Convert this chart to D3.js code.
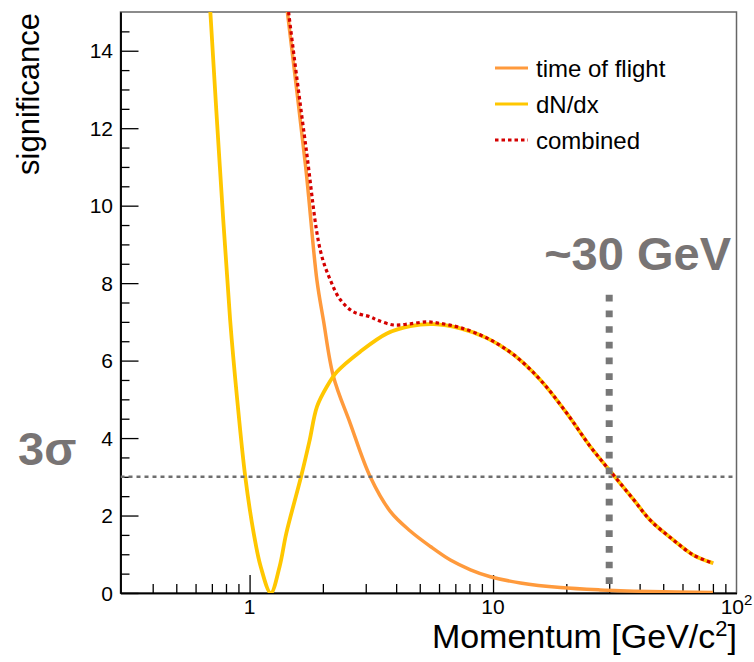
<!DOCTYPE html>
<html>
<head>
<meta charset="utf-8">
<script src="https://cdn.jsdelivr.net/npm/d3@7"></script>
<style>
  body { margin: 0; background: #fff; }
  text { font-family: "Liberation Sans", Arial, Helvetica, sans-serif; }
</style>
</head>
<body>
<svg id="chart" width="754" height="662"></svg>
<script>
// momentum (GeV/c) and significance, one pair of arrays per curve
var tofP = [1.32, 1.43, 1.70, 1.89, 2.01, 2.21, 2.59, 3.13, 3.79, 4.57, 5.53, 6.68, 8.08, 9.75, 12.96, 18.9, 27.5, 44.0, 80.0];
var tofV = [17, 15, 11, 8.08, 7.05, 5.59, 4.38, 3.0, 2.1, 1.6, 1.2, 0.85, 0.6, 0.42, 0.26, 0.14, 0.08, 0.04, 0.01];

var dedxP = [0.64, 0.69, 0.755, 0.832, 0.890, 0.960, 1.040, 1.112, 1.222, 1.328, 1.415, 1.627, 1.759, 1.892, 2.078, 2.285, 2.848, 3.665, 4.57, 5.70, 7.34, 9.45, 12.16, 15.65, 20.1, 25.1, 30.8, 37.9, 44.2, 55.0, 66.5, 80.2];
var dedxV = [18.5, 15, 11, 7.05, 4.98, 3.0, 1.54, 0.67, 0, 0.68, 1.54, 3.0, 3.9, 4.81, 5.33, 5.71, 6.23, 6.70, 6.89, 6.94, 6.83, 6.58, 6.15, 5.50, 4.64, 3.78, 3.09, 2.40, 1.88, 1.37, 0.98, 0.77];

var combP = [1.33, 1.446, 1.71, 1.95, 2.146, 2.36, 2.67, 3.13, 3.34, 3.90, 4.57, 5.35, 6.07, 7.34, 9.45, 12.16, 15.65, 20.1, 25.1, 30.8, 37.9, 44.2, 55.0, 66.5, 80.2];
var combV = [17, 15, 11.44, 8.86, 8.08, 7.57, 7.26, 7.13, 7.05, 6.92, 6.95, 7.0, 6.96, 6.85, 6.58, 6.15, 5.50, 4.64, 3.78, 3.09, 2.40, 1.88, 1.37, 0.98, 0.77];

var legendLabels = ["time of flight", "dN/dx", "combined"];
var xMajor = [1, 10, 100];
var xMinor = [0.4, 0.5, 0.6, 0.7, 0.8, 0.9, 2, 3, 4, 5, 6, 7, 8, 9, 20, 30, 40, 50, 60, 70, 80, 90];
var yMajor = [0, 2, 4, 6, 8, 10, 12, 14];
var yMinor = [0.5, 1, 1.5, 2.5, 3, 3.5, 4.5, 5, 5.5, 6.5, 7, 7.5, 8.5, 9, 9.5, 10.5, 11, 11.5, 12.5, 13, 13.5, 14.5];
var threshold = 3;      // 3 sigma line
var reachP = 30;        // ~30 GeV marker
var reachTop = 7.7;

var svg = d3.select("#chart");
var padL = 120.5, padR = 736.5, padT = 12, padB = 593;

var x = d3.scaleLog().domain([0.295, 100]).range([padL, padR]);
var y = d3.scaleLinear().domain([0, 15]).range([padB, padT]);

svg.append("clipPath").attr("id", "frame")
  .append("rect").attr("x", padL).attr("y", padT).attr("width", padR - padL).attr("height", padB - padT);

// frame
svg.append("rect")
  .attr("x", padL).attr("y", padT).attr("width", padR - padL).attr("height", padB - padT)
  .attr("fill", "none").attr("stroke", "#666").attr("stroke-width", 1.5);

// axes, ticks pointing into the plot like ROOT
function styleAxis(g) {
  g.select(".domain").attr("stroke", "#000").attr("stroke-width", 1.5);
  g.selectAll(".tick line").attr("stroke", "#000").attr("stroke-width", 1.3);
  g.selectAll(".tick text").remove();
}
svg.append("g").attr("transform", "translate(0," + padB + ")")
  .call(d3.axisBottom(x).tickValues(xMinor).tickSize(-9).tickSizeOuter(0)).call(styleAxis);
svg.append("g").attr("transform", "translate(0," + padB + ")")
  .call(d3.axisBottom(x).tickValues(xMajor.slice(0, 2)).tickSize(-18).tickSizeOuter(0)).call(styleAxis);
svg.append("g").attr("transform", "translate(" + padL + ",0)")
  .call(d3.axisLeft(y).tickValues(yMinor).tickSize(-9).tickSizeOuter(0)).call(styleAxis);
svg.append("g").attr("transform", "translate(" + padL + ",0)")
  .call(d3.axisLeft(y).tickValues(yMajor).tickSize(-18).tickSizeOuter(0)).call(styleAxis);

// tick labels
svg.append("g").selectAll("text").data(yMajor).enter().append("text")
  .attr("x", 113).attr("y", function(d) { return y(d); }).attr("dy", "0.36em")
  .attr("text-anchor", "end").attr("font-size", 21).text(function(d) { return d; });

var xl = svg.append("g").selectAll("text").data(xMajor).enter().append("text")
  .attr("x", function(d) { return x(d); }).attr("y", 614)
  .attr("text-anchor", "middle").attr("font-size", 21);
xl.each(function(d) {
  var t = d3.select(this);
  if (d === 100) {
    t.append("tspan").text("10");
    t.append("tspan").attr("dy", -9).attr("font-size", 15).text("2");
  } else {
    t.text(d);
  }
});

// axis titles
svg.append("text").attr("transform", "translate(39," + 13 + ") rotate(-90)")
  .attr("text-anchor", "end").attr("font-size", 31).text("significance");
var xt = svg.append("text").attr("x", 737).attr("y", 648).attr("text-anchor", "end").attr("font-size", 34);
xt.append("tspan").text("Momentum [GeV/c");
xt.append("tspan").attr("dy", -12).attr("font-size", 22).text("2");
xt.append("tspan").attr("dy", 12).text("]");

// curves
function series(px, py) { return px.map(function(p, i) { return [p, py[i]]; }); }
var line = d3.line().x(function(d) { return x(d[0]); }).y(function(d) { return y(d[1]); })
  .curve(d3.curveCatmullRom.alpha(0.5));

var plot = svg.append("g").attr("clip-path", "url(#frame)");
plot.append("path").datum(series(tofP, tofV)).attr("d", line)
  .attr("fill", "none").attr("stroke", "#ff9a3c").attr("stroke-width", 3.5);
plot.append("path").datum(series(dedxP, dedxV)).attr("d", line)
  .attr("fill", "none").attr("stroke", "#ffc700").attr("stroke-width", 3.8);
plot.append("path").datum(series(combP, combV)).attr("d", line)
  .attr("fill", "none").attr("stroke", "#d40000").attr("stroke-width", 3.2).attr("stroke-dasharray", "3.5,3");

// reference lines
plot.append("line").attr("x1", padL).attr("x2", padR).attr("y1", y(threshold)).attr("y2", y(threshold))
  .attr("stroke", "#6e6e6e").attr("stroke-width", 2.6).attr("stroke-dasharray", "4,4");
plot.append("line").attr("x1", x(reachP)).attr("x2", x(reachP)).attr("y1", y(reachTop)).attr("y2", y(0))
  .attr("stroke", "#777").attr("stroke-width", 7).attr("stroke-dasharray", "6.7,9");

// annotations
svg.append("text").attr("x", 18).attr("y", 465).attr("font-size", 47).attr("font-weight", "bold")
  .attr("fill", "#787474").text("3σ");
svg.append("text").attr("x", 731).attr("y", 270).attr("text-anchor", "end").attr("font-size", 47)
  .attr("font-weight", "bold").attr("fill", "#787474").text("~30 GeV");

// legend
var legColors = ["#ff9a3c", "#ffc700", "#d40000"];
var leg = svg.append("g").selectAll("g").data(legendLabels).enter().append("g")
  .attr("transform", function(d, i) { return "translate(0," + (68 + i * 36) + ")"; });
leg.append("line").attr("x1", 495).attr("x2", 528)
  .attr("stroke", function(d, i) { return legColors[i]; })
  .attr("stroke-width", function(d, i) { return i === 2 ? 3 : 3.2; })
  .attr("stroke-dasharray", function(d, i) { return i === 2 ? "3.5,3" : null; });
leg.append("text").attr("x", 536).attr("dy", "0.36em").attr("font-size", 24).text(function(d) { return d; });
</script>
</body>
</html>
